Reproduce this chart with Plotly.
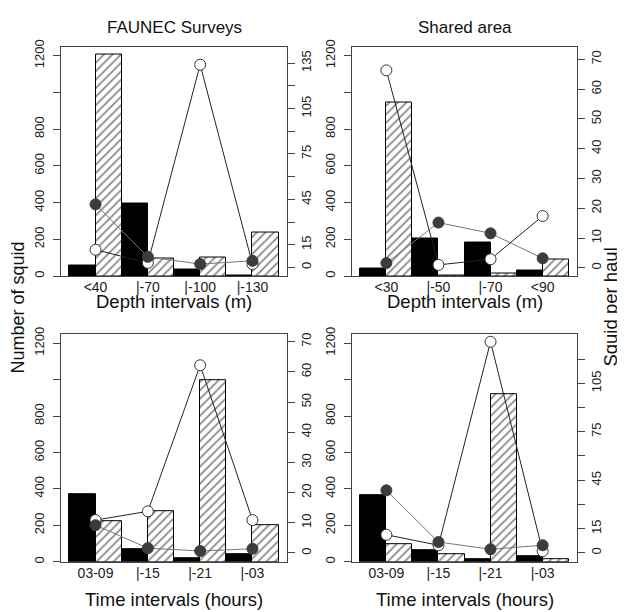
import plotly.graph_objects as go

# ---- data ----
cat_depth_faunec = ["<40", "|-70", "|-100", "|-130"]
cat_depth_shared = ["<30", "|-50", "|-70", "<90"]
cat_time = ["03-09", "|-15", "|-21", "|-03"]

p1_black = [58, 395, 35, 5]
p1_hatch = [1209, 97, 100, 239]
p1_open = [11.7, 3.0, 134, 2.2]
p1_fill = [41.7, 7.0, 2.2, 4.4]

p2_black = [41, 207, 185, 32]
p2_hatch = [945, 4, 14, 90]
p2_open = [66.3, 1.0, 2.9, 17.4]
p2_fill = [1.6, 15.2, 11.6, 3.2]

p3_black = [372, 68, 22, 40]
p3_hatch = [221, 277, 995, 203]
p3_open = [10.9, 13.8, 62.2, 10.9]
p3_fill = [9.2, 1.6, 0.65, 1.4]

p4_black = [363, 61, 14, 32]
p4_hatch = [97, 43, 920, 13]
p4_open = [11.2, 4.7, 130.7, 1.0]
p4_fill = [38.7, 6.7, 2.2, 4.7]

left_ticks = [0, 200, 400, 600, 800, 1000, 1200]
left_text = ["0", "200", "400", "600", "800", "", "1200"]
right_ticks_135 = [0, 15, 30, 45, 60, 75, 90, 105, 120, 135]
right_text_135 = ["0", "15", "", "45", "", "75", "", "105", "", "135"]
right_ticks_120 = [0, 15, 30, 45, 60, 75, 90, 105, 120]
right_text_120 = ["0", "15", "", "45", "", "75", "", "105", ""]
right_ticks_70 = [0, 10, 20, 30, 40, 50, 60, 70]
right_text_70 = ["0", "10", "20", "30", "40", "50", "60", "70"]

titles = ["FAUNEC Surveys", "Shared area"]
xtitles = ["Depth intervals (m)", "Time intervals (hours)"]

OFF = 8  # page body margin
FW, FH = 625 - OFF, 612 - OFF
FONT = "Liberation Sans, Arial, sans-serif"


def px(x):
    return (x - OFF) / FW


def py(y):
    return 1 - (y - OFF) / FH


# panel boxes in screen pixels (left, right, top, bottom)
boxes = [(61, 287, 40, 273), (352, 577, 40, 273),
         (61, 287, 332, 563), (352, 577, 332, 563)]

panels = [
    (cat_depth_faunec, p1_black, p1_hatch, p1_open, p1_fill, [-5.7, 146], right_ticks_135, right_text_135),
    (cat_depth_shared, p2_black, p2_hatch, p2_open, p2_fill, [-2.75, 74.3], right_ticks_70, right_text_70),
    (cat_time, p3_black, p3_hatch, p3_open, p3_fill, [-2.9, 72.5], right_ticks_70, right_text_70),
    (cat_time, p4_black, p4_hatch, p4_open, p4_fill, [-5.5, 135.4], right_ticks_120, right_text_120),
]

fig = go.Figure()
layout = {}
for i, (cats, blk, hat, opn, fil, rr, rt, rtxt) in enumerate(panels):
    xn = "" if i == 0 else str(i + 1)
    yl = 2 * i + 1
    yr = 2 * i + 2
    yln = "" if yl == 1 else str(yl)
    xref = "x" + xn
    yref_l = "y" + yln
    yref_r = "y" + str(yr)
    l, r, t, b = boxes[i]
    xdom = [px(l), px(r)]
    ydom = [py(b), py(t)]

    fig.add_trace(go.Bar(x=cats, y=blk, xaxis=xref, yaxis=yref_l, offsetgroup="a",
                         marker=dict(color="black", line=dict(color="black", width=1)),
                         showlegend=False))
    fig.add_trace(go.Bar(x=cats, y=hat, xaxis=xref, yaxis=yref_l, offsetgroup="b",
                         marker=dict(color="white", line=dict(color="black", width=1),
                                     pattern=dict(shape="/", fgcolor="#111111", bgcolor="white",
                                                  size=6, solidity=0.3)),
                         showlegend=False))
    fig.add_trace(go.Scatter(x=cats, y=opn, xaxis=xref, yaxis=yref_r, mode="lines+markers",
                             line=dict(color="#222222", width=1),
                             marker=dict(symbol="circle", size=11, color="white",
                                         line=dict(color="#333333", width=1)),
                             showlegend=False))
    fig.add_trace(go.Scatter(x=cats, y=fil, xaxis=xref, yaxis=yref_r, mode="lines+markers",
                             line=dict(color="#777777", width=1),
                             marker=dict(symbol="circle", size=11, color="#3c3c3c",
                                         line=dict(color="#3c3c3c", width=1)),
                             showlegend=False))

    layout["xaxis" + xn] = dict(domain=xdom, anchor="y" + yln, type="category",
                                range=[-0.66, 3.66], showline=True, mirror=True,
                                linecolor="#444444", linewidth=1, ticks="",
                                showgrid=False, ticklabelstandoff=-2,
                                tickfont=dict(family=FONT, size=14, color="#222222"),
                                zeroline=False)
    layout["yaxis" + yln] = dict(domain=ydom, anchor=xref, range=[0, 1250],
                                 tickvals=left_ticks, ticktext=left_text, tickangle=-90,
                                 ticks="outside", ticklen=7, tickcolor="#444444",
                                 ticklabelstandoff=4,
                                 showline=True, mirror=True, linecolor="#444444", linewidth=1,
                                 showgrid=False, zeroline=False,
                                 tickfont=dict(family=FONT, size=13, color="#222222"))
    layout["yaxis" + str(yr)] = dict(overlaying=yref_l, anchor=xref, side="right", range=rr,
                                     tickvals=rt, ticktext=rtxt, tickangle=-90,
                                     ticks="outside", ticklen=7, tickcolor="#444444",
                                     showline=False, showgrid=False, zeroline=False,
                                     tickfont=dict(family=FONT, size=13, color="#222222"))

annotations = []
for j in range(2):
    l, r, t, b = boxes[j]
    annotations.append(dict(text=titles[j], x=px((l + r) / 2), y=py(21), xref="paper", yref="paper",
                            showarrow=False, font=dict(family=FONT, size=17, color="#111111"),
                            xanchor="center", yanchor="middle"))
for i in range(4):
    l, r, t, b = boxes[i]
    yc = 299 if i < 2 else 601
    annotations.append(dict(text=xtitles[i // 2], x=px((l + r) / 2), y=py(yc), xref="paper", yref="paper",
                            showarrow=False, font=dict(family=FONT, size=18.5, color="#111111"),
                            xanchor="center", yanchor="middle"))
annotations.append(dict(text="Number of squid", x=px(18), y=py(305), xref="paper", yref="paper",
                        showarrow=False, textangle=-90, font=dict(family=FONT, size=18, color="#111111"),
                        xanchor="center", yanchor="middle"))
annotations.append(dict(text="Squid per haul", x=px(611), y=py(305), xref="paper", yref="paper",
                        showarrow=False, textangle=-90, font=dict(family=FONT, size=18.5, color="#111111"),
                        xanchor="center", yanchor="middle"))

fig.update_layout(**layout)
fig.update_layout(width=FW, height=FH, margin=dict(l=0, r=0, t=0, b=0),
                  barmode="group", bargap=0, bargroupgap=0,
                  paper_bgcolor="white", plot_bgcolor="white",
                  annotations=annotations, showlegend=False,
                  font=dict(family=FONT))
fig.write_html("out.html")
